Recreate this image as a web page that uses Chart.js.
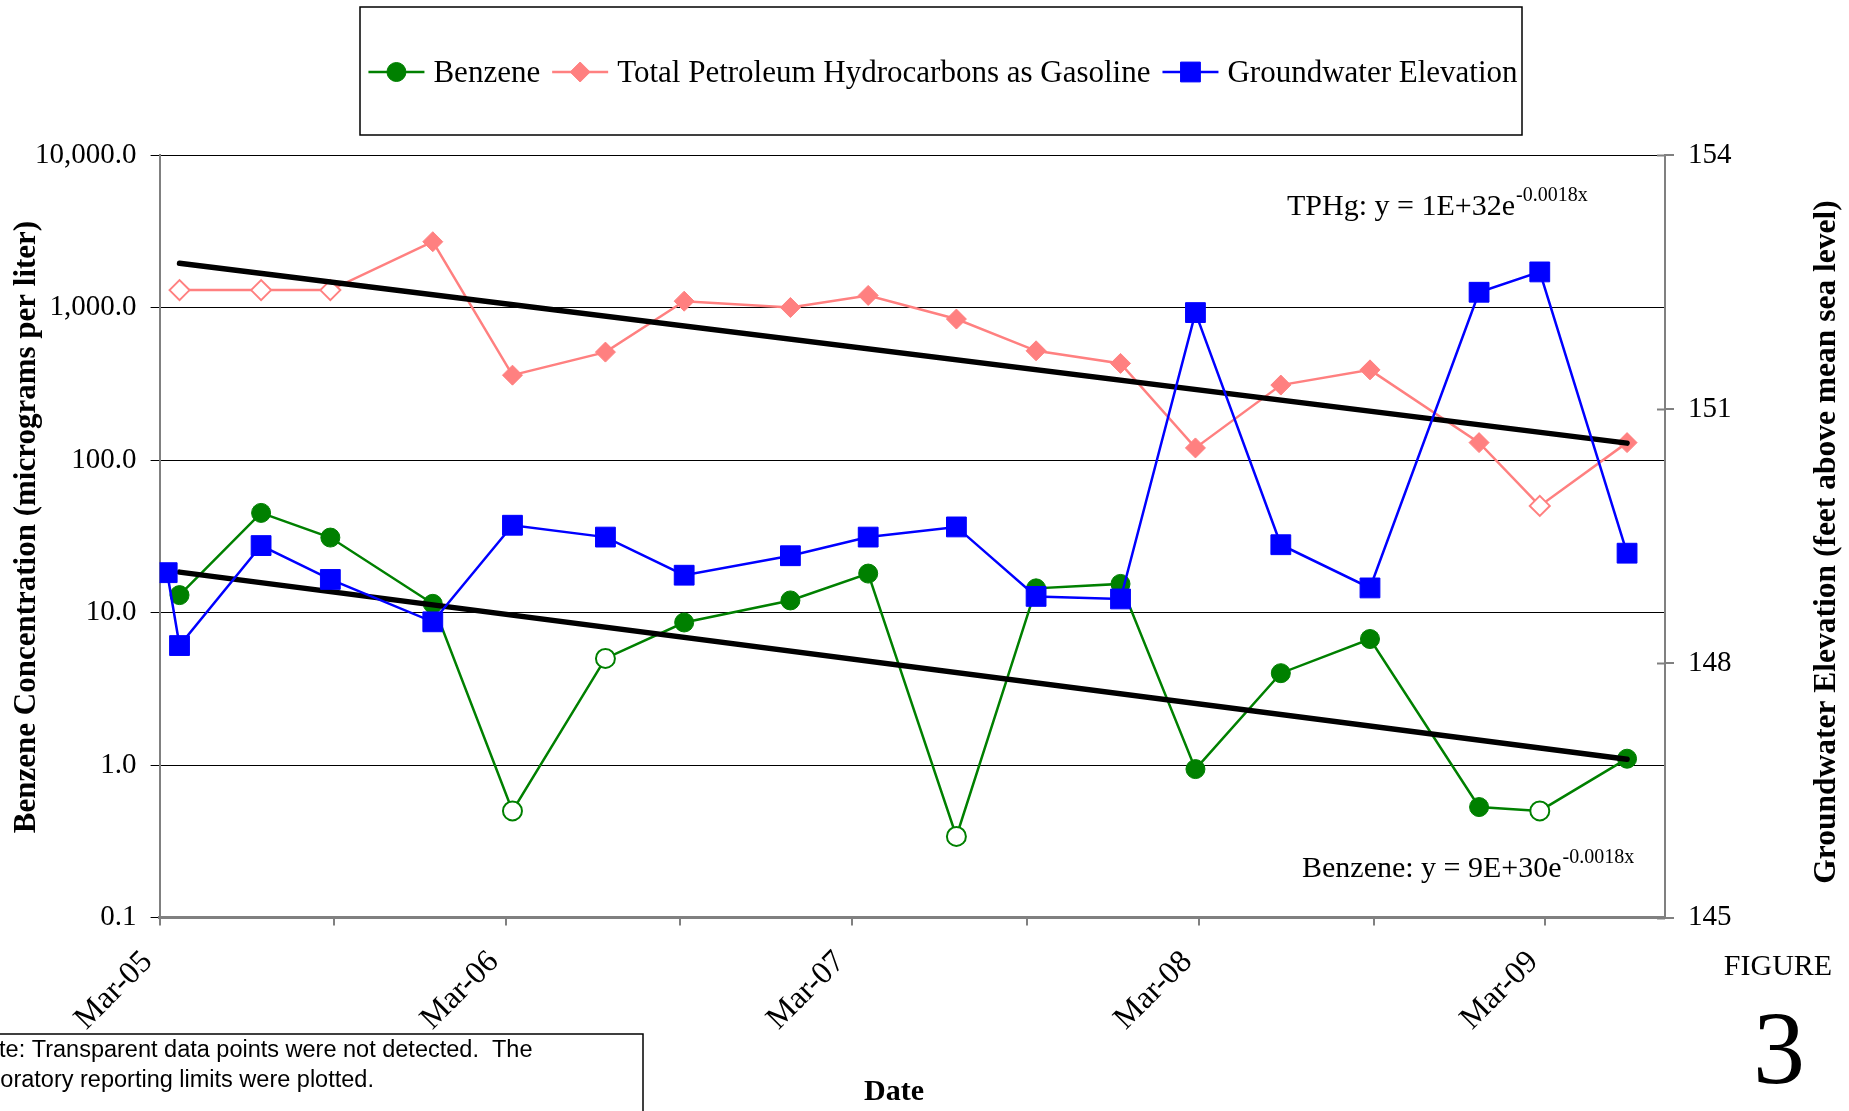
<!DOCTYPE html>
<html>
<head>
<meta charset="utf-8">
<title>Benzene, TPHg and Groundwater Elevation</title>
<script src="https://cdn.jsdelivr.net/npm/chart.js@4.4.1/dist/chart.umd.min.js"></script>
<style>
  html, body { margin: 0; padding: 0; background: #ffffff; }
  #wrap { position: relative; width: 1849px; height: 1111px; }
  canvas { display: block; }
</style>
</head>
<body>
<div id="wrap"><canvas id="chart" width="1849" height="1111"></canvas></div>
<script>
// ---- data -------------------------------------------------------------
const seriesNames = ['Benzene', 'Total Petroleum Hydrocarbons as Gasoline', 'Groundwater Elevation'];

// sampling events shared by the two concentration series
const sampleDates = ['2005-03-22', '2005-06-16', '2005-08-28', '2005-12-14', '2006-03-08', '2006-06-14',
                     '2006-09-05', '2006-12-26', '2007-03-18', '2007-06-19', '2007-09-11', '2007-12-09',
                     '2008-02-26', '2008-05-26', '2008-08-28', '2008-12-21', '2009-02-23', '2009-05-26'];
// micrograms per liter
const benzene   = [13.0, 45, 31, 11.4, 0.5, 5.0, 8.6, 12.0, 18.0, 0.34, 14.4, 15.4, 0.94, 4.0, 6.7, 0.53, 0.5, 1.1];
// 1 = not detected, reporting limit plotted
const benzeneND = [0, 0, 0, 0, 1, 1, 0, 0, 0, 1, 0, 0, 0, 0, 0, 0, 1, 0];
const tphg      = [1300, 1300, 1300, 2700, 360, 510, 1100, 1000, 1200, 840, 520, 430, 120, 310, 390, 130, 50, 130];
const tphgND    = [1, 1, 1, 0, 0, 0, 0, 0, 0, 0, 0, 0, 0, 0, 0, 0, 1, 0];

// gauging events, feet above mean sea level
const gwDates = ['2005-03-09', '2005-03-22', '2005-06-16', '2005-08-28', '2005-12-14', '2006-03-08', '2006-06-14',
                 '2006-09-05', '2006-12-26', '2007-03-18', '2007-06-19', '2007-09-11', '2007-12-09',
                 '2008-02-26', '2008-05-26', '2008-08-28', '2008-12-21', '2009-02-23', '2009-05-26'];
const gwElevation = [149.07, 148.21, 149.39, 148.99, 148.49, 149.63, 149.49, 149.04, 149.27, 149.49,
                     149.61, 148.79, 148.76, 152.14, 149.40, 148.89, 152.38, 152.62, 149.30];

// exponential trend lines (straight on the log axis), end points
const trendDates   = ['2005-03-22', '2009-05-26'];
const tphgTrend    = [1950, 129];
const benzeneTrend = [18.4, 1.09];
const tphgEquation    = ['TPHg: y = 1E+32e', '-0.0018x'];
const benzeneEquation = ['Benzene: y = 9E+30e', '-0.0018x'];

// axes
const axisStart = '2005-03-01';
const axisEnd   = '2009-07-05';
const xTickDates  = ['2005-03-01', '2005-09-01', '2006-03-01', '2006-09-01', '2007-03-01',
                     '2007-09-01', '2008-03-01', '2008-09-01', '2009-03-01'];
const xTickLabels = ['Mar-05', '', 'Mar-06', '', 'Mar-07', '', 'Mar-08', '', 'Mar-09'];
const concTicks      = [0.1, 1, 10, 100, 1000, 10000];
const concTickLabels = ['0.1', '1.0', '10.0', '100.0', '1,000.0', '10,000.0'];
const elevTicks      = [145, 148, 151, 154];

const xTitle = 'Date';
const concTitle = 'Benzene Concentration (micrograms per liter)';
const elevTitle = 'Groundwater Elevation (feet above mean sea level)';
const noteLines = ['Note: Transparent data points were not detected.  The',
                   'laboratory reporting limits were plotted.'];
const figureLabel = 'FIGURE';
const figureNumber = '3';

// ---- helpers ------------------------------------------------------------
const SERIF = "'Liberation Serif', 'Times New Roman', serif";
const SANS  = "'Liberation Sans', Arial, sans-serif";
const GREEN = '#008000', PINK = '#FF8080', BLUE = '#0000FF', AXIS = '#808080';

const day = d => (Date.parse(d) - Date.parse(axisStart)) / 864e5;
const pts = (dates, vals) => dates.map((d, i) => ({ x: day(d), y: vals[i] }));

function drawRotated(ctx, text, x, y, font) {
  ctx.save();
  ctx.translate(x, y);
  ctx.rotate(-Math.PI / 2);
  ctx.font = font;
  ctx.fillStyle = '#000';
  ctx.textAlign = 'center';
  ctx.textBaseline = 'middle';
  ctx.fillText(text, 0, 0);
  ctx.restore();
}

function drawEquation(ctx, parts, x, y) {
  ctx.save();
  ctx.fillStyle = '#000';
  ctx.textAlign = 'left';
  ctx.textBaseline = 'alphabetic';
  ctx.font = '30px ' + SERIF;
  ctx.fillText(parts[0], x, y);
  const w = ctx.measureText(parts[0]).width;
  ctx.font = '20px ' + SERIF;
  ctx.fillText(parts[1], x + w + 1, y - 14);
  ctx.restore();
}

// legend, titles and notes drawn around the plot
const decorations = {
  id: 'decorations',
  afterDraw(chart) {
    const ctx = chart.ctx;
    const area = chart.chartArea;

    // inner half of the right-axis tick marks
    const yElev = chart.scales.yElev;
    ctx.save();
    ctx.strokeStyle = AXIS;
    ctx.lineWidth = 2;
    elevTicks.forEach(v => {
      const py = Math.round(yElev.getPixelForValue(v)) + 0.5;
      ctx.beginPath();
      ctx.moveTo(area.right - 8, py);
      ctx.lineTo(area.right, py);
      ctx.stroke();
    });
    ctx.restore();

    // legend box
    const box = { left: 360, top: 7, right: 1522, bottom: 135 };
    ctx.save();
    ctx.strokeStyle = '#000';
    ctx.lineWidth = 1.5;
    ctx.strokeRect(box.left, box.top, box.right - box.left, box.bottom - box.top);
    ctx.font = '31px ' + SERIF;
    const items = chart.data.datasets.filter(ds => ds.legendIndex !== undefined)
      .sort((a, b) => a.legendIndex - b.legendIndex);
    const sample = 56, gapText = 9, gapItem = 12;
    const widths = items.map(ds => ctx.measureText(ds.label).width);
    const total = widths.reduce((s, w) => s + w + sample + gapText, 0) + gapItem * (items.length - 1);
    let x = (box.left + box.right) / 2 - total / 2 + 2;
    const ly = 72;
    items.forEach((ds, i) => {
      ctx.strokeStyle = ds.borderColor;
      ctx.lineWidth = ds.borderWidth;
      ctx.beginPath();
      ctx.moveTo(x, ly);
      ctx.lineTo(x + sample, ly);
      ctx.stroke();
      ctx.fillStyle = ds.borderColor;
      ctx.lineWidth = 1;
      Chart.helpers.drawPoint(ctx, { pointStyle: ds.pointStyle, radius: ds.pointRadius, rotation: 0, borderWidth: 1 },
        x + sample / 2, ly);
      ctx.fillStyle = '#000';
      ctx.textAlign = 'left';
      ctx.textBaseline = 'alphabetic';
      ctx.fillText(ds.label, x + sample + gapText, 82);
      x += sample + gapText + widths[i] + gapItem;
    });
    ctx.restore();

    // axis titles
    drawRotated(ctx, concTitle, 27, 527, 'bold 31px ' + SERIF);
    drawRotated(ctx, elevTitle, 1827, 542, 'bold 31.5px ' + SERIF);
    ctx.save();
    ctx.fillStyle = '#000';
    ctx.font = 'bold 30px ' + SERIF;
    ctx.textAlign = 'center';
    ctx.textBaseline = 'alphabetic';
    ctx.fillText(xTitle, 894, 1100);
    ctx.restore();

    // trend equations
    drawEquation(ctx, tphgEquation, 1287, 215);
    drawEquation(ctx, benzeneEquation, 1302, 877);

    // figure number
    ctx.save();
    ctx.fillStyle = '#000';
    ctx.textAlign = 'center';
    ctx.textBaseline = 'alphabetic';
    ctx.font = '30px ' + SERIF;
    ctx.fillText(figureLabel, 1778, 975);
    ctx.font = '104px ' + SERIF;
    ctx.fillText(figureNumber, 1779, 1083);
    ctx.restore();

    // note box
    ctx.save();
    ctx.strokeStyle = '#000';
    ctx.lineWidth = 1.5;
    ctx.strokeRect(-5, 1034, 648, 100);
    ctx.fillStyle = '#000';
    ctx.font = '23.5px ' + SANS;
    ctx.textAlign = 'left';
    ctx.textBaseline = 'alphabetic';
    ctx.fillText(noteLines[0], -31, 1057);
    ctx.fillText(noteLines[1], -31, 1087);
    ctx.restore();
  }
};

// ---- chart ----------------------------------------------------------------
const ctx = document.getElementById('chart').getContext('2d');
new Chart(ctx, {
  type: 'line',
  data: {
    datasets: [
      {
        label: seriesNames[2], legendIndex: 2,
        data: pts(gwDates, gwElevation), yAxisID: 'yElev',
        borderColor: BLUE, backgroundColor: BLUE, borderWidth: 2.5,
        pointStyle: 'rect', pointRadius: 14, pointBorderWidth: 1,
        pointBackgroundColor: BLUE, pointBorderColor: BLUE,
        tension: 0, order: 0
      },
      {
        label: 'TPHg trend',
        data: pts(trendDates, tphgTrend), yAxisID: 'yConc',
        borderColor: '#000', borderWidth: 5.5, borderCapStyle: 'round',
        pointRadius: 0, tension: 0, order: 1
      },
      {
        label: 'Benzene trend',
        data: pts(trendDates, benzeneTrend), yAxisID: 'yConc',
        borderColor: '#000', borderWidth: 5.5, borderCapStyle: 'round',
        pointRadius: 0, tension: 0, order: 1
      },
      {
        label: seriesNames[1], legendIndex: 1,
        data: pts(sampleDates, tphg), yAxisID: 'yConc',
        borderColor: PINK, backgroundColor: PINK, borderWidth: 2.5,
        pointStyle: 'rectRot', pointRadius: 10,
        pointBackgroundColor: tphgND.map(n => n ? '#ffffff' : PINK),
        pointBorderColor: PINK,
        pointBorderWidth: tphgND.map(n => n ? 2 : 1),
        tension: 0, order: 2
      },
      {
        label: seriesNames[0], legendIndex: 0,
        data: pts(sampleDates, benzene), yAxisID: 'yConc',
        borderColor: GREEN, backgroundColor: GREEN, borderWidth: 2.5,
        pointStyle: 'circle', pointRadius: 9.5,
        pointBackgroundColor: benzeneND.map(n => n ? '#ffffff' : GREEN),
        pointBorderColor: GREEN,
        pointBorderWidth: benzeneND.map(n => n ? 2 : 1),
        tension: 0, order: 3
      }
    ]
  },
  options: {
    responsive: false,
    animation: false,
    devicePixelRatio: 1,
    events: [],
    layout: { padding: { top: 155, left: 0, right: 0, bottom: 0 } },
    plugins: { legend: { display: false }, tooltip: { enabled: false } },
    scales: {
      x: {
        type: 'linear',
        position: 'bottom',
        min: 0,
        max: day(axisEnd),
        afterBuildTicks: s => { s.ticks = xTickDates.map(d => ({ value: day(d) })); },
        afterFit: s => { s.height = 193.5; },
        ticks: {
          autoSkip: false,
          minRotation: 45,
          maxRotation: 45,
          padding: 18,
          labelOffset: -12,
          color: '#000',
          font: { family: SERIF, size: 32 },
          callback: (v, i) => xTickLabels[i]
        },
        grid: { drawOnChartArea: false, drawTicks: true, tickLength: 8, color: AXIS, lineWidth: 2 },
        border: { color: AXIS, width: 3 }
      },
      yConc: {
        type: 'logarithmic',
        position: 'left',
        min: 0.1,
        max: 10000,
        afterBuildTicks: s => { s.ticks = concTicks.map(v => ({ value: v })); },
        afterFit: s => { s.width = 159.6; },
        ticks: {
          padding: 14,
          color: '#000',
          font: { family: SERIF, size: 29 },
          callback: (v, i) => concTickLabels[i]
        },
        grid: { drawOnChartArea: true, tickLength: 9, color: '#000', lineWidth: 1 },
        border: { color: AXIS, width: 2 }
      },
      yElev: {
        type: 'linear',
        position: 'right',
        min: 145,
        max: 154,
        afterBuildTicks: s => { s.ticks = elevTicks.map(v => ({ value: v })); },
        afterFit: s => { s.width = 184; },
        ticks: {
          padding: 14,
          color: '#000',
          font: { family: SERIF, size: 29 },
          callback: v => String(v)
        },
        grid: { drawOnChartArea: false, tickLength: 9, color: AXIS, lineWidth: 2 },
        border: { color: AXIS, width: 2 }
      }
    }
  },
  plugins: [decorations]
});
</script>
</body>
</html>
